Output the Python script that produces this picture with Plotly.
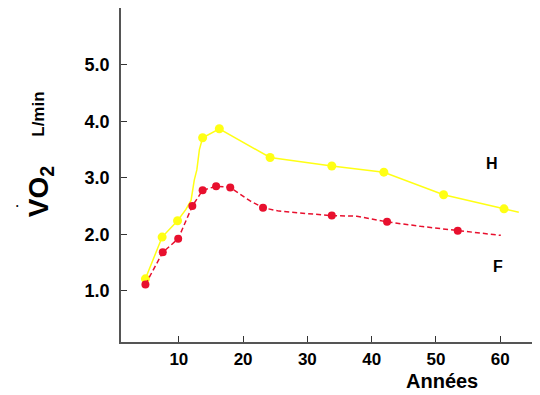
import plotly.graph_objects as go

# H (hommes) - line path and marked points
h_line_age = [4.8, 7.4, 9.8, 11.1, 11.9, 12.4, 12.8, 13.2, 13.7, 16.3, 24.2, 33.8, 41.9, 51.2, 60.6, 62.9]
h_line_vo2 = [1.21, 1.95, 2.24, 2.44, 2.60, 2.96, 3.14, 3.50, 3.71, 3.87, 3.36, 3.21, 3.10, 2.70, 2.45, 2.39]
h_pt_age = [4.8, 7.4, 9.8, 13.7, 16.3, 24.2, 33.8, 41.9, 51.2, 60.6]
h_pt_vo2 = [1.21, 1.95, 2.24, 3.71, 3.87, 3.36, 3.21, 3.10, 2.70, 2.45]

# F (femmes)
f_line_age = [4.8, 7.5, 9.9, 12.1, 13.7, 15.8, 18.0, 21.1, 23.1, 25.6, 28.4, 33.8, 37.7, 42.4, 47.6, 53.4, 60.1]
f_line_vo2 = [1.11, 1.68, 1.92, 2.50, 2.78, 2.85, 2.83, 2.59, 2.47, 2.41, 2.38, 2.33, 2.32, 2.22, 2.14, 2.06, 1.98]
f_pt_age = [4.8, 7.5, 9.9, 12.1, 13.7, 15.8, 18.0, 23.1, 33.8, 42.4, 53.4]
f_pt_vo2 = [1.11, 1.68, 1.92, 2.50, 2.78, 2.85, 2.83, 2.47, 2.33, 2.22, 2.06]

x_ticks = [10, 20, 30, 40, 50, 60]
y_ticks = [1.0, 2.0, 3.0, 4.0, 5.0]
y_tick_text = ["1.0", "2.0", "3.0", "4.0", "5.0"]

YEL = "#ffff14"
RED = "#e8102e"
FONT = "Liberation Sans, Arial, sans-serif"

fig = go.Figure()
fig.add_trace(go.Scatter(x=h_line_age, y=h_line_vo2, mode="lines",
                         line=dict(color=YEL, width=1.5), hoverinfo="skip"))
fig.add_trace(go.Scatter(x=h_pt_age, y=h_pt_vo2, mode="markers",
                         marker=dict(color=YEL, size=9)))
fig.add_trace(go.Scatter(x=f_line_age, y=f_line_vo2, mode="lines",
                         line=dict(color=RED, width=1.5, dash="5px,3px"), hoverinfo="skip"))
fig.add_trace(go.Scatter(x=f_pt_age, y=f_pt_vo2, mode="markers",
                         marker=dict(color=RED, size=8)))

fig.update_layout(
    width=532, height=387,
    margin=dict(l=113, r=0, t=0, b=53, autoexpand=False),
    paper_bgcolor="white", plot_bgcolor="white",
    showlegend=False,
    font=dict(family=FONT, color="black"),
    xaxis=dict(range=[1, 66.2], tickvals=x_ticks, ticks="inside", ticklen=6,
               tickcolor="#333", showline=True, linecolor="#555", linewidth=1.5,
               showgrid=False, zeroline=False,
               tickfont=dict(size=17, weight="bold", family=FONT),
               ticklabelstandoff=1),
    yaxis=dict(range=[0.09, 6.01], tickvals=y_ticks, ticktext=y_tick_text,
               ticks="inside", ticklen=6, tickcolor="#333",
               showline=True, linecolor="#555", linewidth=1.5,
               showgrid=False, zeroline=False,
               tickfont=dict(size=18, weight="bold", family=FONT),
               ticklabelstandoff=6),
    annotations=[
        dict(x=58.7, y=3.26, xref="x", yref="y", text="<b>H</b>", showarrow=False,
             font=dict(size=16, family=FONT)),
        dict(x=59.6, y=1.43, xref="x", yref="y", text="<b>F</b>", showarrow=False,
             font=dict(size=16, family=FONT)),
        dict(x=0.765, y=-0.117, xref="paper", yref="paper", text="<b>Années</b>",
             showarrow=False, font=dict(size=20, family=FONT),
             xanchor="center", yanchor="middle"),
        dict(x=-0.193, y=0.449, xref="paper", yref="paper", text="<b>VO<sub>2</sub></b>",
             showarrow=False, textangle=-90, font=dict(size=28, family=FONT),
             xanchor="center", yanchor="middle"),
        dict(x=-0.196, y=0.683, xref="paper", yref="paper", text="<b>L/min</b>",
             showarrow=False, textangle=-90, font=dict(size=17, family=FONT),
             xanchor="center", yanchor="middle"),
        dict(x=-0.248, y=0.41, xref="paper", yref="paper", text="•",
             showarrow=False, font=dict(size=7, family=FONT),
             xanchor="center", yanchor="middle"),
    ],
)

fig.write_html("out.html")
